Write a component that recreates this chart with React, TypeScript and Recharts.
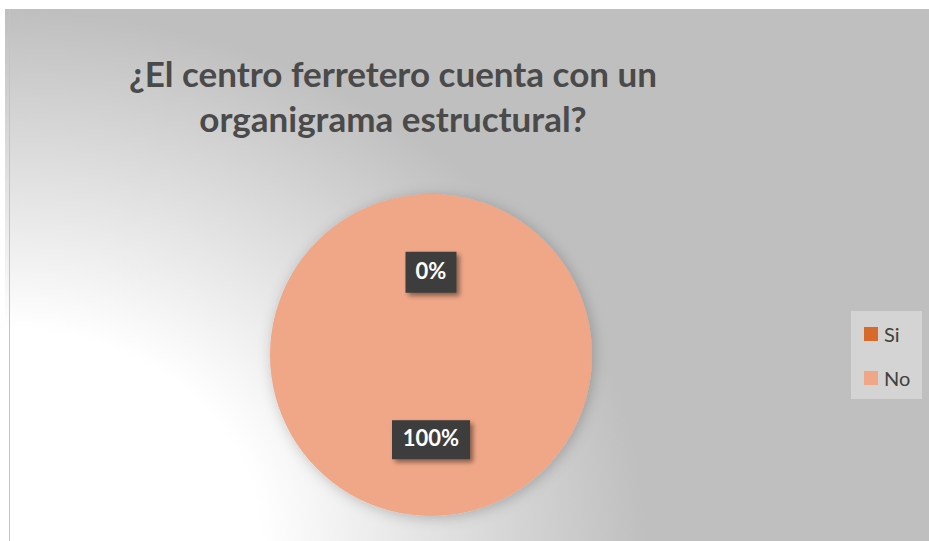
import React from "react";
import { PieChart, Pie, Cell, Legend } from "recharts";

const categories = ["Si", "No"];
const values = [0, 100];
const labelsText = ["0%", "100%"];
const colors = ["#d7692b", "#f0a787"];

const data = categories.map((name, i) => ({ name, value: values[i], label: labelsText[i] }));

const RADIAN = Math.PI / 180;

const renderLabel = (props: any) => {
  const { cx, cy, midAngle, outerRadius, index } = props;
  const r = outerRadius * 0.52;
  const x = cx + r * Math.cos(-midAngle * RADIAN);
  const y = cy + r * Math.sin(-midAngle * RADIAN) + 1;
  const text = data[index].label;
  const w = text.length > 2 ? 78 : 51;
  const h = text.length > 2 ? 39 : 41;
  return (
    <g key={"lbl" + index}>
      <rect x={x - w / 2} y={y - h / 2} width={w} height={h} fill="#3d3d3d" filter="url(#shadow)" />
      <text
        x={x}
        y={y + 1}
        textAnchor="middle"
        dominantBaseline="middle"
        fill="#ffffff"
        fontFamily="Lato, 'Open Sans', sans-serif"
        fontWeight={700}
        fontSize={22}
      >
        {text}
      </text>
    </g>
  );
};

const renderLegend = () => {
  return (
    <div
      style={{
        background: "#d4d4d4",
        width: 71,
        height: 88,
        boxSizing: "border-box",
        paddingTop: 12,
        paddingLeft: 13,
        fontFamily: "Lato, 'Open Sans', sans-serif",
        fontSize: 20,
        color: "#404040",
      }}
    >
      {categories.map((name, i) => (
        <div key={name} style={{ display: "flex", alignItems: "center", height: 22, marginBottom: i === 0 ? 22 : 0 }}>
          <span style={{ display: "inline-block", width: 14, height: 14, background: colors[i], marginRight: 6 }} />
          <span>{name}</span>
        </div>
      ))}
    </div>
  );
};

export default function App() {
  return (
    <div style={{ position: "fixed", left: 0, top: 0, width: 929, height: 541, background: "#ffffff", overflow: "hidden" }}>
      <div
        style={{
          position: "absolute",
          left: 5,
          top: 9,
          width: 924,
          height: 532,
          background:
            "radial-gradient(ellipse 640px 530px at 0% 100%, #ffffff 0%, #ffffff 40%, #bfbfbf 100%)",
        }}
      >
        <div style={{ position: "absolute", left: 4, top: 0, width: 1, height: 532, background: "#c4c4c4" }} />
        <div
          style={{
            position: "absolute",
            left: 0,
            top: 42,
            width: 776,
            textAlign: "center",
            fontFamily: "Lato, 'Open Sans', sans-serif",
            fontWeight: 700,
            fontSize: 35,
            lineHeight: "45px",
            color: "#4a4a4a",
          }}
        >
          ¿El centro ferretero cuenta con un
          <br />
          organigrama estructural?
        </div>
        <PieChart width={924} height={532} style={{ position: "absolute", left: 0, top: 0 }}>
          <defs>
            <filter id="shadow" x="-20%" y="-20%" width="150%" height="160%">
              <feDropShadow dx="3" dy="3" stdDeviation="2.5" floodColor="#000000" floodOpacity="0.45" />
            </filter>
            <filter id="pieShadow" x="-20%" y="-20%" width="140%" height="140%">
              <feDropShadow dx="2" dy="2" stdDeviation="7" floodColor="#000000" floodOpacity="0.22" />
            </filter>
          </defs>
          <Pie
            data={data}
            dataKey="value"
            nameKey="name"
            cx={421}
            cy={341}
            outerRadius={161}
            startAngle={90}
            endAngle={-270}
            stroke="none"
            label={renderLabel}
            labelLine={false}
            isAnimationActive={false}
            style={{ filter: "url(#pieShadow)" }}
          >
            {data.map((d, i) => (
              <Cell key={d.name} fill={colors[i]} />
            ))}
          </Pie>
          <Legend
            layout="vertical"
            verticalAlign="top"
            align="right"
            content={renderLegend}
            wrapperStyle={{ left: 846, top: 302, width: 71 }}
          />
        </PieChart>
      </div>
    </div>
  );
}
